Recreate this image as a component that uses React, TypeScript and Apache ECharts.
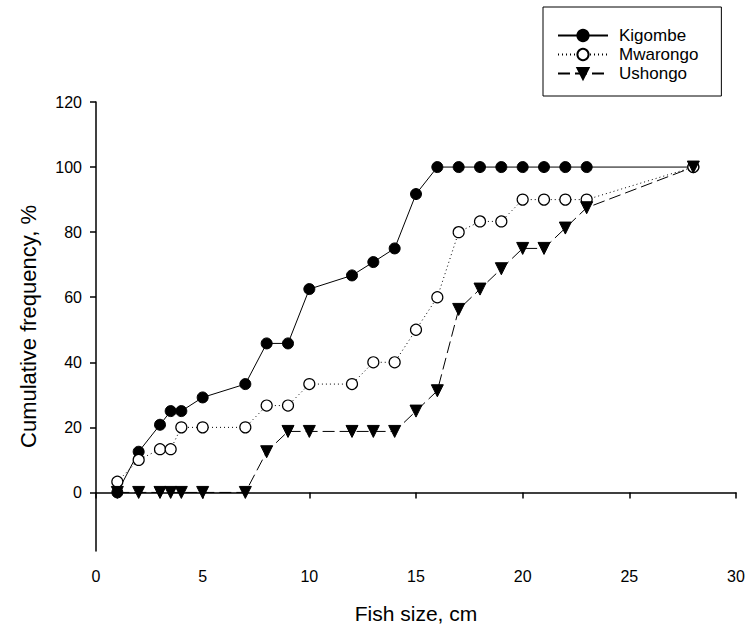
import React, { useEffect, useRef } from "react";
import * as echarts from "echarts";

const sizes = [1, 2, 3, 3.5, 4, 5, 7, 8, 9, 10, 12, 13, 14, 15, 16, 17, 18, 19, 20, 21, 22, 23, 28];
const kigombe = [0, 12.5, 20.8, 25, 25, 29.2, 33.3, 45.8, 45.8, 62.5, 66.7, 70.8, 75, 91.7, 100, 100, 100, 100, 100, 100, 100, 100, 100];
const mwarongo = [3.3, 10, 13.3, 13.3, 20, 20, 20, 26.7, 26.7, 33.3, 33.3, 40, 40, 50, 60, 80, 83.3, 83.3, 90, 90, 90, 90, 100];
const ushongo = [0, 0, 0, 0, 0, 0, 0, 12.5, 18.75, 18.75, 18.75, 18.75, 18.75, 25, 31.25, 56.25, 62.5, 68.75, 75, 75, 81.25, 87.5, 100];
const yTicks = [0, 20, 40, 60, 80, 100, 120];

const FONT = "Liberation Sans, Arial, sans-serif";

function pairs(ys: number[]) {
  return sizes.map((x, i) => [x, ys[i]]);
}

export default function App() {
  const ref = useRef<HTMLDivElement>(null);
  useEffect(() => {
    document.body.style.margin = "0";
    const chart = echarts.init(ref.current!, null, { renderer: "svg" });
    chart.setOption({
      animation: false,
      backgroundColor: "#fff",
      grid: { left: 96, right: 11, top: 102, bottom: 76, outerBoundsMode: "none", containLabel: false },
      legend: {
        orient: "vertical",
        left: 543,
        top: 7,
        borderColor: "#000",
        borderWidth: 1,
        padding: [20, 23, 14, 14],
        itemWidth: 50,
        itemHeight: 14,
        itemGap: 2,
        textStyle: { fontFamily: FONT, fontSize: 17, color: "#000", padding: [0, 0, 0, 6] },
        data: ["Kigombe", "Mwarongo", "Ushongo"],
      },
      xAxis: {
        type: "value",
        min: 0,
        max: 30,
        interval: 5,
        name: "Fish size, cm",
        nameLocation: "middle",
        nameGap: 52,
        nameTextStyle: { fontFamily: FONT, fontSize: 21, color: "#000" },
        axisLine: { show: true, lineStyle: { color: "#000", width: 1.5 } },
        axisTick: { show: true, length: 6, lineStyle: { color: "#000", width: 1.5 } },
        axisLabel: { fontFamily: FONT, fontSize: 16, color: "#000", margin: 17 },
        splitLine: { show: false },
      },
      yAxis: {
        type: "value",
        min: -18,
        max: 120,
        name: "Cumulative frequency, %",
        nameLocation: "middle",
        nameGap: 57,
        nameTextStyle: { fontFamily: FONT, fontSize: 22, color: "#000" },
        axisLine: { show: true, lineStyle: { color: "#000", width: 1.5 } },
        axisTick: { show: true, length: 6, customValues: yTicks, lineStyle: { color: "#000", width: 1.5 } },
        axisLabel: { fontFamily: FONT, fontSize: 16, color: "#000", margin: 14, customValues: yTicks },
        splitLine: { show: false },
      },
      series: [
        {
          name: "Kigombe",
          type: "line",
          data: pairs(kigombe),
          symbol: "circle",
          symbolSize: 11,
          itemStyle: { color: "#000", borderColor: "#000", borderWidth: 1 },
          lineStyle: { color: "#000", width: 1, type: "solid" },
        },
        {
          name: "Mwarongo",
          type: "line",
          data: pairs(mwarongo),
          symbol: "circle",
          symbolSize: 11,
          itemStyle: { color: "#fff", borderColor: "#000", borderWidth: 1.2 },
          lineStyle: { color: "#000", width: 1, type: [1, 3] },
        },
        {
          name: "Ushongo",
          type: "line",
          data: pairs(ushongo),
          symbol: "triangle",
          symbolRotate: 180,
          symbolSize: 12,
          itemStyle: { color: "#000", borderColor: "#000", borderWidth: 1 },
          lineStyle: { color: "#000", width: 1, type: [12, 5] },
        },
      ],
    });
    return () => chart.dispose();
  }, []);
  return <div ref={ref} style={{ width: 747, height: 627 }} />;
}
